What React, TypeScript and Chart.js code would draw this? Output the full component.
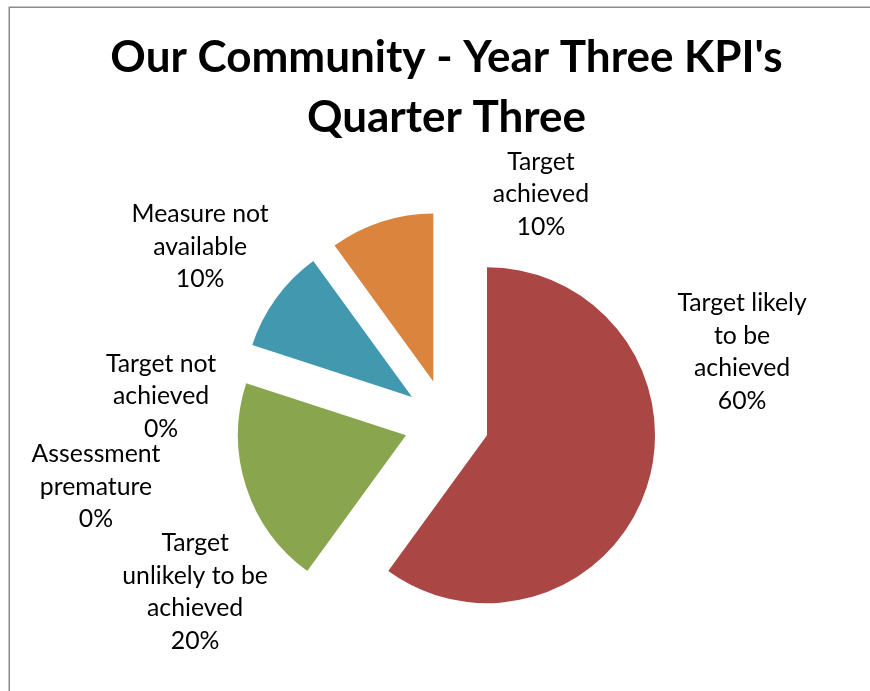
import React, { useEffect, useRef } from "react";
import { Chart, registerables } from "chart.js";

Chart.register(...registerables);

// ---- data ----
const TITLE_LINES = ["Our Community - Year Three KPI's", "Quarter Three"];
const CATEGORIES = [
  "Target likely to be achieved",
  "Target unlikely to be achieved",
  "Assessment premature",
  "Target not achieved",
  "Measure not available",
  "Target achieved",
];
const VALUES = [60, 20, 0, 0, 10, 10];
const COLORS = ["#AA4643", "#89A54E", "#71588F", "#80699B", "#4198AF", "#DB843D"];

// ---- label layout (angle: degrees clockwise from 12 o'clock, dist: in pie radii) ----
const LABEL_PLACEMENT = [
  { angle: 76.7, dist: 1.808 },
  { angle: 235.9, dist: 1.807 },
  { angle: 259.5, dist: 2.122 },
  { angle: 275.2, dist: 1.706 },
  { angle: 305.4, dist: 1.799 },
  { angle: 22.5, dist: 1.469 },
];

const FONT_FAMILY = "Lato, 'Open Sans', sans-serif";
const PIE_RADIUS = 168;
const EXPLODE = 42.6;

function wrapText(ctx: CanvasRenderingContext2D, text: string, maxWidth: number): string[] {
  const words = text.split(" ");
  const lines: string[] = [];
  let cur = "";
  for (const w of words) {
    const test = cur ? cur + " " + w : w;
    if (cur && ctx.measureText(test).width > maxWidth) {
      lines.push(cur);
      cur = w;
    } else {
      cur = test;
    }
  }
  if (cur) lines.push(cur);
  return lines;
}

const framePlugin = {
  id: "frame",
  beforeDraw(chart: any) {
    const ctx = chart.ctx as CanvasRenderingContext2D;
    ctx.save();
    ctx.fillStyle = "#ffffff";
    ctx.fillRect(0, 0, chart.width, chart.height);
    ctx.strokeStyle = "#8c8c8c";
    ctx.lineWidth = 1.5;
    ctx.strokeRect(9.25, 7.25, chart.width + 40, chart.height + 40);
    ctx.restore();
  },
};

// moves every slice outward along its bisector by the same distance (Excel-style explode)
const explodePlugin = {
  id: "explode",
  afterDatasetsUpdate(chart: any, _args: any, opts: any) {
    const meta = chart.getDatasetMeta(0);
    const d = opts.distance || 0;
    meta.data.forEach((arc: any) => {
      const mid = (arc.startAngle + arc.endAngle) / 2;
      arc._cx = arc.x;
      arc._cy = arc.y;
      arc.x = arc.x + Math.cos(mid) * d;
      arc.y = arc.y + Math.sin(mid) * d;
    });
  },
};

const outsideLabelsPlugin = {
  id: "outsideLabels",
  afterDatasetsDraw(chart: any, _args: any, opts: any) {
    const meta = chart.getDatasetMeta(0);
    const data = chart.data.datasets[0].data as number[];
    const total = data.reduce((a: number, b: number) => a + b, 0);
    const ctx = chart.ctx as CanvasRenderingContext2D;
    ctx.save();
    ctx.font = `${opts.size}px ${opts.family}`;
    ctx.fillStyle = opts.color;
    ctx.textAlign = "center";
    ctx.textBaseline = "middle";
    meta.data.forEach((arc: any, i: number) => {
      const p = opts.placement[i];
      if (!p) return;
      const cx0 = arc._cx ?? arc.x;
      const cy0 = arc._cy ?? arc.y;
      const R = arc.outerRadius;
      const a = (p.angle * Math.PI) / 180;
      const cx = cx0 + Math.sin(a) * R * p.dist;
      const cy = cy0 - Math.cos(a) * R * p.dist;
      const lines = wrapText(ctx, String(chart.data.labels[i]), opts.maxWidth);
      lines.push(Math.round((data[i] / total) * 100) + "%");
      const n = lines.length;
      lines.forEach((ln, k) => {
        ctx.fillText(ln, cx, cy + (k - (n - 1) / 2) * opts.lineHeight);
      });
    });
    ctx.restore();
  },
};

export default function App() {
  const canvasRef = useRef<HTMLCanvasElement | null>(null);

  useEffect(() => {
    if (!canvasRef.current) return;
    const chart = new Chart(canvasRef.current, {
      type: "pie",
      data: {
        labels: CATEGORIES,
        datasets: [
          {
            data: VALUES,
            backgroundColor: COLORS,
            borderWidth: 0,
          },
        ],
      },
      options: {
        responsive: false,
        maintainAspectRatio: false,
        animation: false,
        devicePixelRatio: 1,
        events: [],
        radius: PIE_RADIUS,
        layout: { padding: { left: 23, right: 0, top: 0, bottom: 0 } },
        plugins: {
          legend: { display: false },
          tooltip: { enabled: false },
          title: {
            display: true,
            text: TITLE_LINES,
            color: "#000000",
            font: { family: FONT_FAMILY, size: 44, weight: "bold", lineHeight: 1.364 },
            padding: { top: 28, bottom: 5 },
          },
          explode: { distance: EXPLODE },
          outsideLabels: {
            placement: LABEL_PLACEMENT,
            family: FONT_FAMILY,
            size: 24.8,
            color: "#000000",
            lineHeight: 32.5,
            maxWidth: 148,
          },
        } as any,
      },
      plugins: [framePlugin, explodePlugin, outsideLabelsPlugin],
    });
    return () => chart.destroy();
  }, []);

  return (
    <div style={{ position: "fixed", left: 0, top: 0, width: 870, height: 691, background: "#fff" }}>
      <canvas ref={canvasRef} width={870} height={691} style={{ display: "block" }} />
    </div>
  );
}
